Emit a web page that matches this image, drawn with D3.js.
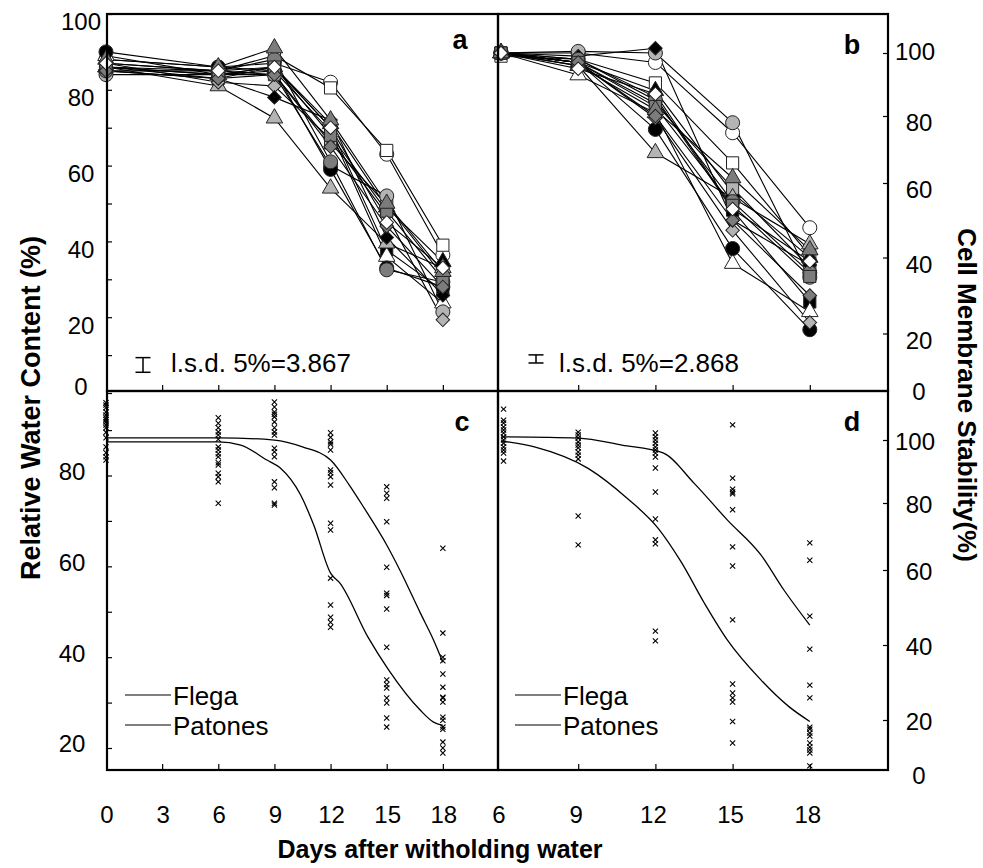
<!DOCTYPE html>
<html><head><meta charset="utf-8">
<script src="https://cdn.jsdelivr.net/npm/d3@7"></script>
<style>body{margin:0;background:#fff} svg{display:block} text{font-family:"Liberation Sans",Arial,sans-serif;fill:#000}</style>
</head><body><svg id="chart" width="983" height="868"></svg>
<script>
// ---------- data ----------
const daysA = [0, 6, 9, 12, 15, 18];
const daysB = [6, 9, 12, 15, 18];
const seriesShapes = ["circle","square","triangle","square","triangle","square","circle","circle","triangle","diamond","diamond","circle","square","triangle","diamond","diamond"];
const seriesFills  = ["white","white","black","black","white","light","light","black","light","light","black","dark","dark","dark","dark","white"];
// Relative water content (panel a), one row per genotype
const rwcValues = [
  [88, 86, 87, 82, 63, 36.4],
  [87, 85, 89, 80.5, 64, 39],
  [86, 84, 86, 71, 49, 34.6],
  [85, 83, 86, 70, 37.7, 27],
  [89, 84, 85, 69, 36, 23.7],
  [86, 85, 84, 66, 49.6, 31],
  [84, 84, 84, 60, 52, 21.4],
  [90, 86, 85, 59, 33, 28],
  [86, 81, 72.5, 54, 39.5, 33],
  [87, 82, 81, 67, 47, 19.3],
  [86, 83, 78, 72, 41, 25.8],
  [85, 85, 88, 61, 32.5, 29.3],
  [86, 84, 86, 68, 48, 30],
  [88, 86, 91, 72, 50, 32],
  [85, 83, 84, 65, 44, 28],
  [87, 85, 86, 70, 45, 33]
];
// Cell membrane stability (panel b)
const cmsValues = [
  [100, 100, 97, 75, 48],
  [99, 98, 90.5, 66, 40.5],
  [100, 97, 88, 57.3, 40],
  [100, 98, 86, 52.7, 28.3],
  [100, 93, 81, 38.4, 25.7],
  [100, 97, 84, 58.6, 37.4],
  [100, 100.5, 100, 78, 34.8],
  [100, 97, 76, 42.4, 21],
  [100, 96, 69, 56, 43.6],
  [100, 97, 79.4, 47.3, 22.9],
  [100, 99, 101.5, 50, 38],
  [100, 98, 85, 55, 36],
  [100, 97, 83, 54, 35],
  [100, 96, 82, 61.5, 42],
  [100, 97, 80, 50, 30],
  [100, 95, 87, 53, 39]
];
const lsdA = 3.867, lsdACenter = 7.4;
const lsdB = 2.868, lsdBCenter = 11.0;

// panel c: individual observations and fitted curves
const rwcScatter = [
  [96.0, 95.5, 94.9, 94.0, 93.3, 92.7, 92.3, 91.8, 91.1, 90.5, 89.5, 88.3, 86.3, 85.0, 84.1, 83.4],
  [92.7, 91.5, 90.5, 89.6, 88.9, 88.0, 86.3, 85.6, 84.8, 84.1, 82.8, 82.3, 80.5, 79.7, 78.6, 73.9],
  [96.2, 95.1, 94.0, 93.5, 92.9, 91.8, 90.5, 89.6, 88.9, 86.0, 85.2, 84.1, 78.6, 77.3, 73.9, 73.5],
  [89.4, 88.4, 87.4, 86.9, 85.6, 81.2, 80.6, 79.7, 77.9, 69.5, 68.0, 57.4, 51.5, 48.8, 47.7, 46.6],
  [77.5, 76.1, 75.0, 69.8, 59.8, 54.1, 53.6, 50.6, 42.2, 35.0, 34.0, 33.2, 31.0, 29.9, 26.6, 24.6],
  [64.0, 45.3, 40.0, 39.2, 36.3, 33.4, 31.2, 31.0, 30.1, 26.8, 26.1, 24.6, 24.1, 21.3, 20.0, 18.9]
];
const flegaDaysC = [0, 6, 9, 10.5, 12, 13, 13.8, 15, 15.7, 16.8, 17.5, 18];
const flegaRwc   = [88.3, 88.3, 87.8, 86.3, 83.4, 77.9, 72.8, 64.7, 59.2, 49.7, 43.8, 38.9];
const patonesDaysC = [0, 6, 7.2, 8.6, 9.3, 10.4, 11.1, 12, 12.5, 14, 15.1, 16.8, 17.5, 18];
const patonesRwc   = [87.4, 87.4, 86.7, 83.4, 81.7, 75.7, 69.1, 58.5, 56.3, 44.4, 37.2, 28.3, 25.7, 25.0];

// panel d
const cmsScatter = [
  [109.8, 106.3, 105.4, 104.1, 103.2, 102.2, 101, 100, 99, 97.8, 96.8, 95.9, 93.3],
  [102.5, 101.6, 100.6, 99.4, 98.4, 97.5, 96.2, 95.2, 94, 76.1, 67.5],
  [102.2, 101, 100, 99, 97.8, 96.8, 95.9, 94.6, 91.1, 83.5, 75.2, 69, 67.8, 43.7, 41.1],
  [104.8, 87.9, 84.4, 83.5, 82.9, 78, 66.9, 61.2, 46.7, 29.6, 27.2, 25.9, 24.8, 19.5, 11.9],
  [68.1, 62.9, 47.7, 38.9, 29.3, 25.9, 17.5, 16.8, 15.4, 14.4, 11.9, 10.5, 9.5, 8.4, 3.9]
];
const flegaDaysD = [6, 9, 10.7, 12.3, 13.5, 14.8, 16.1, 17, 18];
const flegaCms   = [101, 100.6, 98.4, 95.9, 86.3, 74.9, 64.5, 54.6, 45.3];
const patonesDaysD = [6, 7.3, 9.4, 10.9, 12.1, 13.0, 13.9, 14.8, 16.1, 17.2, 18];
const patonesCms   = [99.7, 97.8, 90.9, 81.5, 72.5, 62.4, 51.2, 41.3, 30.7, 23.5, 19.5];

const legendNames = ["Flega", "Patones"];
const ticksA = [0, 20, 40, 60, 80, 100];
const ticksC = [20, 40, 60, 80];
const ticksR = [0, 20, 40, 60, 80, 100];
const xTicksC = [0, 3, 6, 9, 12, 15, 18];
const xTicksD = [6, 9, 12, 15, 18];

// ---------- layout ----------
const svg = d3.select("#chart");
const L = 107, M = 498, R = 888, T = 14, H = 391, B = 770;

const xA = d3.scaleLinear([0, 21], [106, 499]);
const yA = d3.scaleLinear([0, 100], [393, 14]);
const xB = d3.scaleLinear([6, 21], [501, 887]);
const yB = d3.scaleLinear([0, 20, 40, 60, 80, 100], [390, 333.5, 257.5, 183, 116, 53]);
const yC = d3.scaleLinear([20, 80], [748, 475.5]);
const yD = d3.scaleLinear([0, 20, 40, 60, 80, 100], [777, 720, 645, 570, 503, 440]);

const fillCol = {white: "#ffffff", light: "#b4b4b4", dark: "#7c7c7c", black: "#000000"};
const symType = {circle: d3.symbolCircle, square: d3.symbolSquare, triangle: d3.symbolTriangle, diamond: d3.symbolSquare};
const symSize = {circle: 155, square: 148, triangle: 118, diamond: 92};

// ---------- ticks ----------
function noDomain(g){ g.select(".domain").remove(); g.selectAll("line").attr("stroke","#000").attr("stroke-width",1.2); }
svg.append("g").attr("transform",`translate(${L},0)`).call(d3.axisLeft(yA).tickValues(d3.range(0,101,10)).tickSize(-5).tickFormat("")).call(noDomain);
svg.append("g").attr("transform",`translate(${L},0)`).call(d3.axisLeft(yC).tickValues(d3.range(20,91,10)).tickSize(-5).tickFormat("")).call(noDomain);
svg.append("g").attr("transform",`translate(0,${H})`).call(d3.axisBottom(xA).tickValues([3,6,9,12,15,18]).tickSize(-6).tickFormat("")).call(noDomain);
svg.append("g").attr("transform",`translate(0,${B})`).call(d3.axisBottom(xA).tickValues([3,6,9,12,15,18]).tickSize(-6).tickFormat("")).call(noDomain);
svg.append("g").attr("transform",`translate(0,${H})`).call(d3.axisBottom(xB).tickValues([9,12,15,18]).tickSize(-6).tickFormat("")).call(noDomain);
svg.append("g").attr("transform",`translate(0,${B})`).call(d3.axisBottom(xB).tickValues([9,12,15,18]).tickSize(-6).tickFormat("")).call(noDomain);
svg.append("g").attr("transform",`translate(${R},0)`).call(d3.axisRight(yB).tickValues([20,40,60,80,100]).tickSize(-5).tickFormat("")).call(noDomain);
svg.append("g").attr("transform",`translate(${R},0)`).call(d3.axisRight(yD).tickValues([20,40,60,80,100]).tickSize(-5).tickFormat("")).call(noDomain);

// ---------- tick labels ----------
const lab = svg.append("g").attr("font-size", 24).attr("text-anchor","middle");
ticksA.forEach(v => lab.append("text").attr("x",81).attr("y", yA(v) + (v===0 ? -6 : 8)).attr("dy","0.35em").text(v));
ticksC.forEach(v => lab.append("text").attr("x",72).attr("y", yC(v) - 4).attr("dy","0.35em").text(v));
ticksR.forEach(v => lab.append("text").attr("x", v===100 ? 915 : 919).attr("y", yB(v) + (v===100 ? -1 : v===0 ? 2 : 7)).attr("dy","0.35em").text(v));
ticksR.forEach(v => lab.append("text").attr("x", v===100 ? 915 : 919).attr("y", yD(v) + (v===0 ? -1 : 2)).attr("dy","0.35em").text(v));
xTicksC.forEach(v => lab.append("text").attr("x", xA(v)+1).attr("y", 815).attr("dy","0.35em").text(v));
xTicksD.forEach(v => lab.append("text").attr("x", xB(v)-2).attr("y", 815).attr("dy","0.35em").text(v));

// ---------- panel a & b series ----------
function drawSeries(valuesArr, days, xs, ys){
  const g = svg.append("g");
  const line = d3.line().x((d,i)=>xs(days[i])).y(d=>ys(d));
  valuesArr.forEach(vals => g.append("path").attr("d", line(vals)).attr("fill","none").attr("stroke","#000").attr("stroke-width",1.1));
  valuesArr.forEach((vals, s) => {
    const shp = seriesShapes[s];
    const sym = d3.symbol(symType[shp], symSize[shp]);
    vals.forEach((v,i) => {
      g.append("path").attr("d", sym())
        .attr("transform", `translate(${xs(days[i])},${ys(v)})` + (shp==="diamond" ? " rotate(45)" : ""))
        .attr("fill", fillCol[seriesFills[s]]).attr("stroke","#222").attr("stroke-width",1);
    });
  });
}
drawSeries(rwcValues, daysA, xA, yA);
drawSeries(cmsValues, daysB, xB, yB);

// l.s.d. bars
function lsdBar(x, ys, center, lsd, txtX, label){
  const y1 = ys(center + lsd/2), y2 = ys(center - lsd/2);
  const g = svg.append("g").attr("stroke","#000").attr("stroke-width",1.5);
  g.append("line").attr("x1",x).attr("x2",x).attr("y1",y1).attr("y2",y2);
  g.append("line").attr("x1",x-7.5).attr("x2",x+7.5).attr("y1",y1).attr("y2",y1);
  g.append("line").attr("x1",x-7.5).attr("x2",x+7.5).attr("y1",y2).attr("y2",y2);
  svg.append("text").attr("x",txtX).attr("y",372).attr("font-size",26).text(label);
}
lsdBar(143, yA, lsdACenter, lsdA, 171, "l.s.d. 5%=" + lsdA.toFixed(3));
lsdBar(536, yB, lsdBCenter, lsdB, 559, "l.s.d. 5%=" + lsdB.toFixed(3));

// ---------- panel c & d scatter + curves ----------
function drawCross(days, groups, xs, ys){
  const g = svg.append("g").attr("stroke","#000").attr("stroke-width",1.1).attr("fill","none");
  groups.forEach((vals,i) => vals.forEach(v => {
    const x = xs(days[i]), y = ys(v), r = 2.6;
    g.append("path").attr("d",`M${x-r},${y-r}L${x+r},${y+r}M${x-r},${y+r}L${x+r},${y-r}`);
  }));
}
drawCross(daysA, rwcScatter, xA, yC);
drawCross([6.1,9,12,15,18], cmsScatter, xB, yD);

function curve(days, vals, xs, ys){
  svg.append("path").attr("d", d3.line().x((d,i)=>xs(days[i])).y(d=>ys(d)).curve(d3.curveMonotoneX)(vals))
    .attr("fill","none").attr("stroke","#000").attr("stroke-width",1.3);
}
curve(flegaDaysC, flegaRwc, xA, yC);
curve(patonesDaysC, patonesRwc, xA, yC);
curve(flegaDaysD, flegaCms, xB, yD);
curve(patonesDaysD, patonesCms, xB, yD);

// legends
function legend(x0){
  legendNames.forEach((n,i) => {
    const y = 695 + i*30;
    svg.append("line").attr("x1",x0).attr("x2",x0+46).attr("y1",y).attr("y2",y).attr("stroke","#000").attr("stroke-width",1.2);
    svg.append("text").attr("x",x0+48).attr("y",y+10).attr("font-size",26).text(n);
  });
}
legend(125);
legend(515);

// ---------- frames ----------
const fr = svg.append("g").attr("fill","none").attr("stroke","#000").attr("stroke-width",2.2);
fr.append("rect").attr("x",L).attr("y",T).attr("width",M-L).attr("height",H-T);
fr.append("rect").attr("x",M).attr("y",T).attr("width",R-M).attr("height",H-T);
fr.append("rect").attr("x",L).attr("y",H).attr("width",M-L).attr("height",B-H);
fr.append("rect").attr("x",M).attr("y",H).attr("width",R-M).attr("height",B-H);

// panel letters
const pl = svg.append("g").attr("font-size",27).attr("font-weight","bold").attr("text-anchor","middle");
pl.append("text").attr("x",460).attr("y",49).text("a");
pl.append("text").attr("x",852).attr("y",54).text("b");
pl.append("text").attr("x",462).attr("y",431).text("c");
pl.append("text").attr("x",852).attr("y",431).text("d");

// axis titles
svg.append("text").attr("transform","translate(40,408) rotate(-90)").attr("text-anchor","middle")
  .attr("font-size",27).attr("font-weight","bold").text("Relative Water Content (%)");
svg.append("text").attr("transform","translate(958,395) rotate(90)").attr("text-anchor","middle")
  .attr("font-size",26).attr("font-weight","bold").text("Cell Membrane Stability(%)");
svg.append("text").attr("x",440).attr("y",858).attr("text-anchor","middle")
  .attr("font-size",25).attr("font-weight","bold").text("Days after witholding water");
</script></body></html>
